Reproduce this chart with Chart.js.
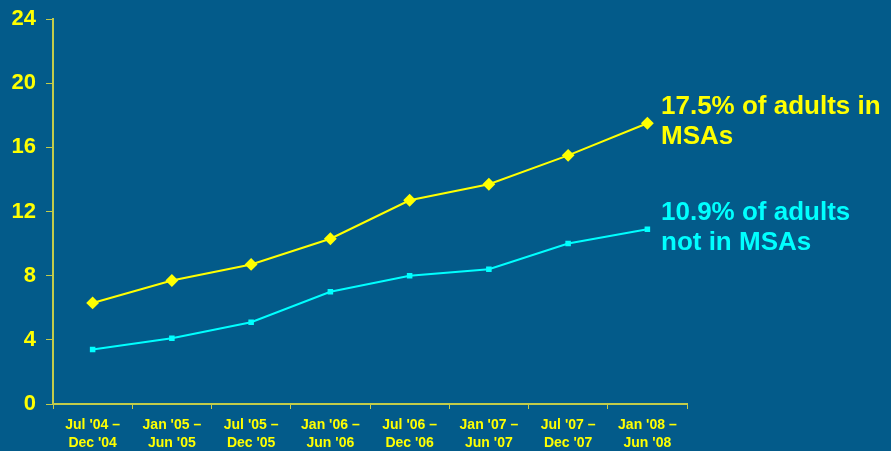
<!DOCTYPE html>
<html>
<head>
<meta charset="utf-8">
<script src="https://cdn.jsdelivr.net/npm/chart.js@4"></script>
<style>
    html, body { margin: 0; padding: 0; background: #035B8A; }
    #wrap { width: 891px; height: 451px; position: relative; }
</style>
</head>
<body>
<div id="wrap"><canvas id="chart"></canvas></div>
<script>
const periods = [
    ["Jul '04 –", "Dec '04"],
    ["Jan '05 –", "Jun '05"],
    ["Jul '05 –", "Dec '05"],
    ["Jan '06 –", "Jun '06"],
    ["Jul '06 –", "Dec '06"],
    ["Jan '07 –", "Jun '07"],
    ["Jul '07 –", "Dec '07"],
    ["Jan '08 –", "Jun '08"],
];
const inMsa = [6.3, 7.7, 8.7, 10.3, 12.7, 13.7, 15.5, 17.5];
const notInMsa = [3.4, 4.1, 5.1, 7.0, 8.0, 8.4, 10.0, 10.9];
const endLabels = [
    ['17.5% of adults in', 'MSAs'],
    ['10.9% of adults', 'not in MSAs'],
];

const axisColor = '#C3CB4A';
const font = 'Arial, "Liberation Sans", sans-serif';

// labels to the right of the last points
const endLabelPlugin = {
    id: 'endLabels',
    afterDatasetsDraw(chart) {
        const ctx = chart.ctx;
        const y = chart.scales.y;
        const left = chart.chartArea.right - 26;
        const tops = [inMsa[inMsa.length - 1] + 1.0, notInMsa[notInMsa.length - 1] + 1.0];
        ctx.save();
        ctx.font = 'bold 26px ' + font;
        ctx.textBaseline = 'middle';
        endLabels.forEach((lines, i) => {
            ctx.fillStyle = chart.data.datasets[i].borderColor;
            const top = y.getPixelForValue(tops[i]);
            lines.forEach((t, j) => ctx.fillText(t, left, top + j * 30));
        });
        ctx.restore();
    },
};

new Chart(document.getElementById('chart'), {
    type: 'line',
    data: {
        labels: periods,
        datasets: [
            {
                label: 'Adults in MSAs',
                data: inMsa,
                borderColor: '#FFFF00',
                backgroundColor: '#FFFF00',
                borderWidth: 2,
                pointStyle: 'rectRot',
                pointRadius: 5,
                tension: 0,
            },
            {
                label: 'Adults not in MSAs',
                data: notInMsa,
                borderColor: '#00FFFF',
                backgroundColor: '#00FFFF',
                borderWidth: 2,
                pointStyle: 'rect',
                pointRadius: 2.5,
                tension: 0,
            },
        ],
    },
    options: {
        responsive: true,
        maintainAspectRatio: false,
        animation: false,
        layout: { padding: { top: 19, right: 204, left: 0, bottom: 0 } },
        plugins: {
            legend: { display: false },
            tooltip: { enabled: false },
        },
        scales: {
            x: {
                offset: true,
                grid: {
                    offset: true,
                    drawOnChartArea: false,
                    color: axisColor,
                    tickLength: 5,
                },
                border: { color: axisColor, width: 2 },
                ticks: {
                    color: '#FFFF00',
                    font: { family: font, size: 14, weight: 'bold', lineHeight: 1.3 },
                    padding: 7,
                    maxRotation: 0,
                    autoSkip: false,
                },
                afterFit(scale) { scale.height = 47; },
            },
            y: {
                min: 0,
                max: 24,
                grid: {
                    drawOnChartArea: false,
                    color: axisColor,
                    tickLength: 7,
                },
                border: { color: axisColor, width: 2 },
                ticks: {
                    stepSize: 4,
                    color: '#FFFF00',
                    font: { family: font, size: 22, weight: 'bold' },
                    padding: 10,
                },
                afterFit(scale) {
                    scale.width = 53;
                    scale.paddingTop = 0;
                    scale.paddingBottom = 0;
                },
            },
        },
    },
    plugins: [endLabelPlugin],
});
</script>
</body>
</html>
